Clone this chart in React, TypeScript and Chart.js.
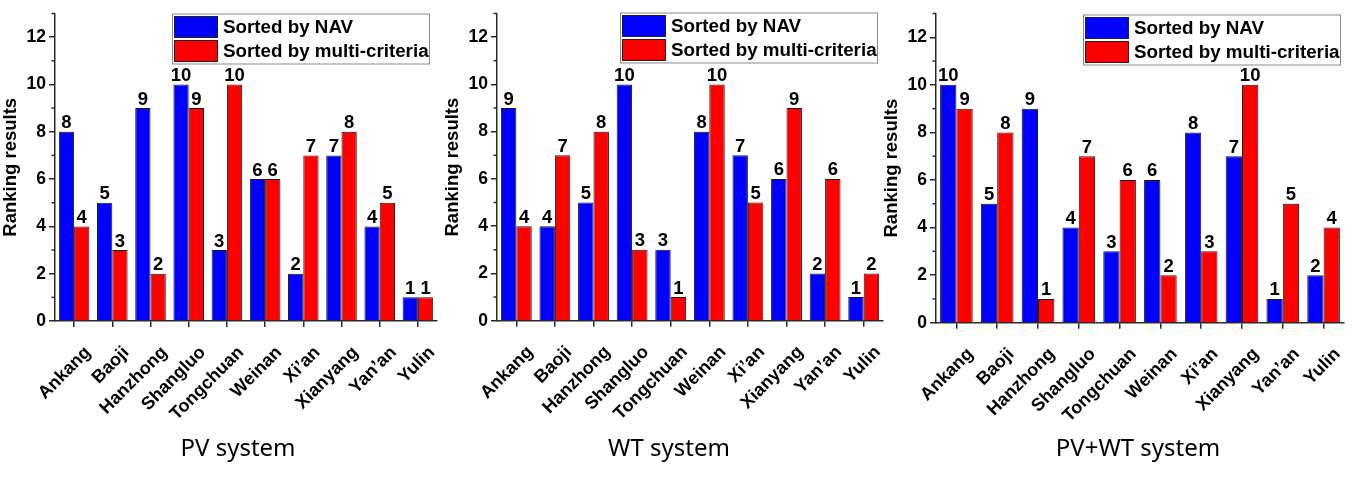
import React, { useEffect, useRef } from "react";
import { Chart, registerables } from "chart.js";

Chart.register(...registerables);

const categories = ["Ankang", "Baoji", "Hanzhong", "Shangluo", "Tongchuan", "Weinan", "Xi’an", "Xianyang", "Yan’an", "Yulin"];
const seriesLabels = ["Sorted by NAV", "Sorted by multi-criteria"];

const pvNAV = [8, 5, 9, 10, 3, 6, 2, 7, 4, 1];
const pvMulti = [4, 3, 2, 9, 10, 6, 7, 8, 5, 1];
const wtNAV = [9, 4, 5, 10, 3, 8, 7, 6, 2, 1];
const wtMulti = [4, 7, 8, 3, 1, 10, 5, 9, 6, 2];
const hybNAV = [10, 5, 9, 4, 3, 6, 8, 7, 1, 2];
const hybMulti = [9, 8, 1, 7, 6, 2, 3, 10, 5, 4];

const panelTitles = ["PV system", "WT system", "PV+WT system"];
const yTicks = [0, 2, 4, 6, 8, 10, 12];
const yMinorTicks = [1, 3, 5, 7, 9, 11, 13];
const yMax = 13;
const yAxisTitle = "Ranking results";

const W = 1354;
const H = 479;
const BLUE = "#0000FF";
const RED = "#FF0000";
const AXIS = "#2a2a2a";
const BOLD = '"Liberation Sans", Arial, sans-serif';

const panels = [
  { title: panelTitles[0], nav: pvNAV, multi: pvMulti, pad: { left: 0, right: 917, top: 12.3, bottom: 58 }, titleX: 238, legendInset: 8, legendDy: 0 },
  { title: panelTitles[1], nav: wtNAV, multi: wtMulti, pad: { left: 442, right: 471, top: 9.4, bottom: 58.3 }, titleX: 669, legendInset: 6, legendDy: -1 },
  { title: panelTitles[2], nav: hybNAV, multi: hybMulti, pad: { left: 881, right: 3, top: 11.7, bottom: 56.3 }, titleX: 1138, legendInset: 4, legendDy: 1 },
];

function makePlugin(panel: any) {
  return {
    id: "decor",
    afterDraw(chart: any) {
      const ctx = chart.ctx;
      const area = chart.chartArea;
      const y = chart.scales.y;
      ctx.save();
      // minor ticks
      ctx.strokeStyle = AXIS;
      ctx.lineWidth = 1.5;
      yMinorTicks.forEach((v) => {
        const py = y.getPixelForValue(v);
        ctx.beginPath();
        ctx.moveTo(area.left - 3.5, py);
        ctx.lineTo(area.left, py);
        ctx.stroke();
      });
      // value labels
      ctx.fillStyle = "#000";
      ctx.font = `bold 18.5px ${BOLD}`;
      ctx.textAlign = "center";
      ctx.textBaseline = "alphabetic";
      chart.data.datasets.forEach((ds: any, i: number) => {
        const meta = chart.getDatasetMeta(i);
        meta.data.forEach((bar: any, j: number) => {
          ctx.fillText(String(ds.data[j]), bar.x, bar.y - 3.5);
        });
      });
      // legend
      const lw = 257;
      const lh = 50;
      const lx = area.right - panel.legendInset - lw;
      const ly = area.top + panel.legendDy;
      ctx.fillStyle = "#fff";
      ctx.fillRect(lx, ly, lw, lh);
      ctx.strokeStyle = "#8a8a8a";
      ctx.lineWidth = 1;
      ctx.strokeRect(lx + 0.5, ly + 0.5, lw, lh);
      ctx.font = `bold 18.8px ${BOLD}`;
      ctx.textAlign = "left";
      ctx.textBaseline = "middle";
      chart.data.datasets.forEach((ds: any, i: number) => {
        const sy = ly + 3 + i * 24;
        ctx.fillStyle = ds.backgroundColor;
        ctx.fillRect(lx + 2.5, sy, 43, 21);
        ctx.strokeStyle = "#222";
        ctx.strokeRect(lx + 2.5, sy, 43, 21);
        ctx.fillStyle = "#000";
        ctx.fillText(ds.label, lx + 51, sy + 11);
      });
      // panel title
      ctx.font = '24px "Noto Sans", sans-serif';
      ctx.textAlign = "center";
      ctx.textBaseline = "alphabetic";
      ctx.fillStyle = "#000";
      ctx.fillText(panel.title, panel.titleX, 456);
      ctx.restore();
    },
  };
}

function Panel({ panel }: { panel: any }) {
  const ref = useRef<HTMLCanvasElement | null>(null);
  useEffect(() => {
    if (!ref.current) return;
    const chart = new Chart(ref.current, {
      type: "bar",
      data: {
        labels: categories,
        datasets: [
          { label: seriesLabels[0], data: panel.nav, backgroundColor: BLUE, borderColor: "#1a1a1a", borderWidth: 1, categoryPercentage: 0.8, barPercentage: 1 },
          { label: seriesLabels[1], data: panel.multi, backgroundColor: RED, borderColor: "#1a1a1a", borderWidth: 1, categoryPercentage: 0.8, barPercentage: 1 },
        ],
      },
      options: {
        responsive: false,
        animation: false,
        events: [],
        layout: { padding: panel.pad },
        plugins: { legend: { display: false }, tooltip: { enabled: false }, title: { display: false } },
        scales: {
          x: {
            type: "category",
            offset: true,
            afterFit: (s: any) => { s.height = 100; },
            grid: { offset: false, drawOnChartArea: false, drawTicks: true, tickLength: 6, color: AXIS, lineWidth: 1.5 },
            border: { display: true, color: AXIS, width: 1.5 },
            ticks: { minRotation: 45, maxRotation: 45, autoSkip: false, color: "#000", font: { family: BOLD, size: 18, weight: "bold" }, labelOffset: 14, padding: 15 },
          },
          y: {
            min: 0,
            max: yMax,
            afterFit: (s: any) => { s.width = 55; },
            afterBuildTicks: (s: any) => { s.ticks = yTicks.map((v) => ({ value: v })); },
            grid: { drawOnChartArea: false, drawTicks: true, tickLength: 6, color: AXIS, lineWidth: 1.5 },
            border: { display: true, color: AXIS, width: 1.5 },
            ticks: { color: "#000", font: { family: BOLD, size: 17.5, weight: "bold" }, padding: 3 },
            title: { display: true, text: yAxisTitle, color: "#000", font: { family: BOLD, size: 18.5, weight: "bold" }, padding: 0 },
          },
        },
      },
      plugins: [makePlugin(panel)],
    } as any);
    return () => chart.destroy();
  }, [panel]);
  return <canvas ref={ref} width={W} height={H} style={{ position: "absolute", left: 0, top: 0, width: W, height: H }} />;
}

export default function App() {
  return (
    <div style={{ position: "fixed", left: 0, top: 0, width: W, height: H, background: "#fff" }}>
      {panels.map((p, i) => (
        <Panel key={i} panel={p} />
      ))}
    </div>
  );
}
